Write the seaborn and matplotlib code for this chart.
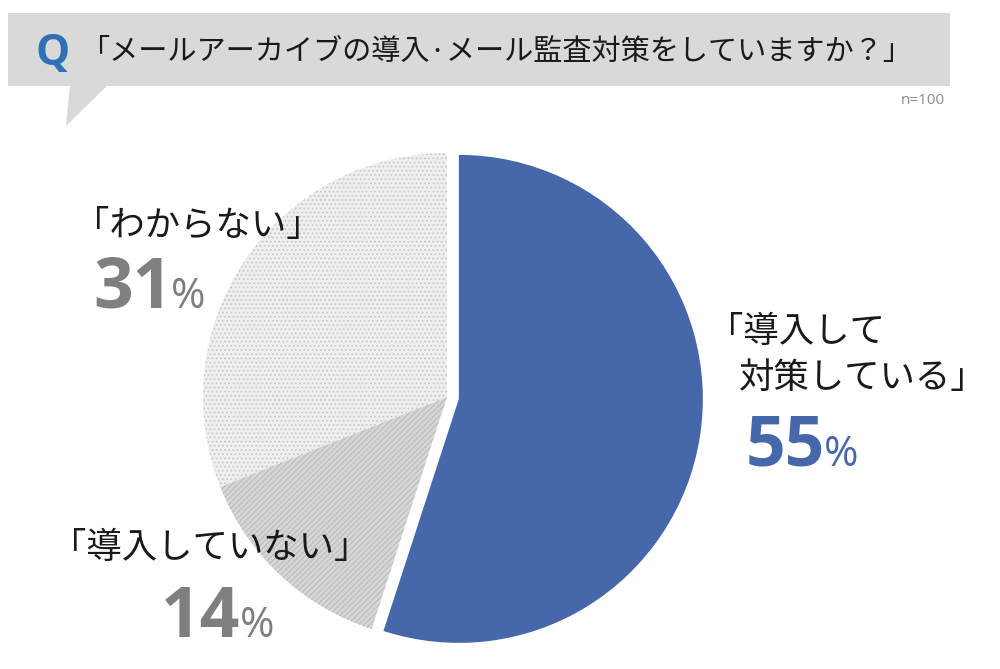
import matplotlib
matplotlib.use("Agg")
import matplotlib.pyplot as plt
from matplotlib.patches import Polygon, Rectangle
import seaborn as sns

# ---- data ----
categories = ["導入して対策している", "導入していない", "わからない"]
values = [55, 14, 31]
label_lines = [["「導入して", "対策している」"], ["「導入していない」"], ["「わからない」"]]
title = "「メールアーカイブの導入·メール監査対策をしていますか？」"
sample_note = "n=100"

sns.set_theme(style="white")
plt.rcParams["font.family"] = ["Noto Sans CJK JP", "DejaVu Sans"]
plt.rcParams["hatch.linewidth"] = 0.7

W, H = 1000, 669
fig = plt.figure(figsize=(W / 100, H / 100), dpi=100)
ax = fig.add_axes([0, 0, 1, 1])

def Y(py):
    return H - py

# ---- pie ----
colors = ["#4668aa", "#d6d6d6", "#eeeeee"]
hatch_colors = ["#4668aa", "#b8b8b8", "#c4c4c4"]
hatches = [None, "//////", "...."]
explode_px = [12, 0, 0]
wedges, _ = ax.pie(values, colors=colors, startangle=90, counterclock=False,
                   center=(447, Y(397)), radius=244, explode=explode_px,
                   frame=True, wedgeprops=dict(linewidth=0))
for w, hc, ht in zip(wedges, hatch_colors, hatches):
    w.set_edgecolor(hc)
    w.set_linewidth(0)
    if ht:
        w.set_hatch(ht)
ax.set_xlim(0, W)
ax.set_ylim(0, H)
ax.set_aspect("equal")
ax.axis("off")

# ---- title banner ----
banner = "#d9d9d9"
ax.add_patch(Rectangle((8, Y(86)), 942, 73, facecolor=banner, edgecolor="none"))
ax.add_patch(Polygon([(70, Y(85)), (108, Y(85)), (66, Y(126))], closed=True,
                     facecolor=banner, edgecolor="none"))
ax.text(35, Y(53), "Q", fontsize=31, fontweight="bold", color="#2f6fb3",
        family=["Open Sans", "DejaVu Sans"], ha="left", va="center")
ax.text(80, Y(52), title, fontsize=21, color="#1a1a1a", ha="left", va="center")
ax.text(945, Y(101), sample_note, fontsize=11, color="#8c8c8c",
        family=["Open Sans", "DejaVu Sans"], ha="right", va="center")

# ---- labels ----
lab_fs = 25.5
num_fs = 50
pct_fs = 30
num_family = ["Open Sans", "DejaVu Sans"]
gray_num = "#7f7f7f"
blue_num = "#4668aa"
ink = "#1a1a1a"

# 導入して対策している
ax.text(708, Y(332), label_lines[0][0], fontsize=lab_fs, color=ink, ha="left", va="center")
ax.text(739, Y(378), label_lines[0][1], fontsize=lab_fs, color=ink, ha="left", va="center")
ax.text(746, Y(466), f"{values[0]}", fontsize=num_fs, fontweight="bold", color=blue_num,
        family=num_family, ha="left", va="baseline")
ax.text(824, Y(466), "%", fontsize=pct_fs, color=blue_num, family=num_family,
        ha="left", va="baseline")

# 導入していない
ax.text(51, Y(548), label_lines[1][0], fontsize=lab_fs, color=ink, ha="left", va="center")
ax.text(161, Y(637), f"{values[1]}", fontsize=num_fs, fontweight="bold", color=gray_num,
        family=num_family, ha="left", va="baseline")
ax.text(240, Y(637), "%", fontsize=pct_fs, color=gray_num, family=num_family,
        ha="left", va="baseline")

# わからない
ax.text(93, Y(308), f"{values[2]}", fontsize=num_fs, fontweight="bold", color=gray_num,
        family=num_family, ha="left", va="baseline")
ax.text(171, Y(308), "%", fontsize=pct_fs, color=gray_num, family=num_family,
        ha="left", va="baseline")
ax.text(74, Y(226), label_lines[2][0], fontsize=lab_fs, color=ink, ha="left", va="center")

fig.savefig("out.png", dpi=100, facecolor="white")
